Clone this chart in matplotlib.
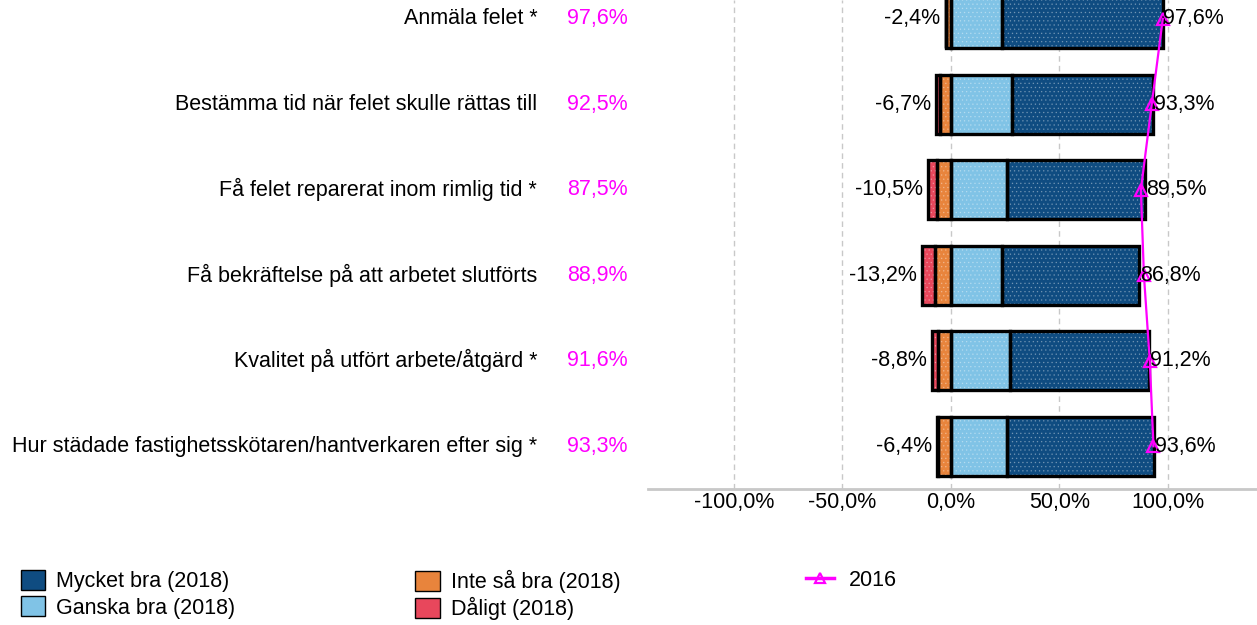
import matplotlib.pyplot as plt
from matplotlib.lines import Line2D
from matplotlib.patches import Patch

plt.rcParams["font.family"] = ["Liberation Sans", "DejaVu Sans"]
plt.rcParams["hatch.linewidth"] = 0.5

# =========================
# Data
# =========================
categories = [
    "Anmäla felet *",
    "Bestämma tid när felet skulle rättas till",
    "Få felet reparerat inom rimlig tid *",
    "Få bekräftelse på att arbetet slutförts",
    "Kvalitet på utfört arbete/åtgärd *",
    "Hur städade fastighetsskötaren/hantverkaren efter sig *",
]
mycket_bra = [73.9, 65.0, 63.9, 63.1, 63.8, 68.0]
ganska_bra = [23.7, 28.3, 25.6, 23.7, 27.4, 25.6]
inte_sa_bra = [2.4, 5.2, 6.6, 7.4, 6.0, 5.8]
daligt = [0.0, 1.5, 3.9, 5.8, 2.8, 0.6]
neg_labels = ["-2,4%", "-6,7%", "-10,5%", "-13,2%", "-8,8%", "-6,4%"]
pos_labels = ["97,6%", "93,3%", "89,5%", "86,8%", "91,2%", "93,6%"]
values_2016 = [97.6, 92.5, 87.5, 88.9, 91.6, 93.3]
labels_2016 = ["97,6%", "92,5%", "87,5%", "88,9%", "91,6%", "93,3%"]
xticks = [-100, -50, 0, 50, 100]
xtick_labels = ["-100,0%", "-50,0%", "0,0%", "50,0%", "100,0%"]

c_mycket = "#0f4c81"
c_ganska = "#80c3e6"
c_inte = "#e8843c"
c_dalig = "#e8475c"
c_2016 = "#ff00ff"
fs = 15.5

# =========================
# Diverging bar chart
# =========================
fig = plt.figure(figsize=(12.57, 6.25), dpi=100)
ax = fig.add_axes([0.5155, 0.2176, 0.4845, 0.7824])

y = list(range(len(categories)))
h = 0.69
neg_total = [a + b for a, b in zip(inte_sa_bra, daligt)]
pos_total = [a + b for a, b in zip(mycket_bra, ganska_bra)]

segments = [
    (ganska_bra, [0] * len(y), c_ganska),
    (mycket_bra, ganska_bra, c_mycket),
    (inte_sa_bra, [-v for v in inte_sa_bra], c_inte),
    (daligt, [-v for v in neg_total], c_dalig),
]
for widths, lefts, col in segments:
    ax.barh(y, widths, left=lefts, height=h, color=col,
            edgecolor=(1, 1, 1, 0.3), linewidth=0, hatch="....", zorder=2)
    ax.barh(y, widths, left=lefts, height=h, color="none",
            edgecolor="black", linewidth=2.4, zorder=3)

ax.plot(values_2016, y, color=c_2016, linewidth=1.6, marker="^",
        markersize=9, markerfacecolor="none", markeredgewidth=1.6, zorder=5)

for i in y:
    ax.text(-neg_total[i] - 2.5, i, neg_labels[i], ha="right", va="center",
            fontsize=fs, zorder=6)
    ax.text(pos_total[i] + 0.3, i, pos_labels[i], ha="left", va="center",
            fontsize=fs, zorder=6)
    ax.text(-0.182, i, categories[i], ha="right", va="center", fontsize=fs,
            transform=ax.get_yaxis_transform(), clip_on=False)
    ax.text(-0.033, i, labels_2016[i], ha="right", va="center", fontsize=fs,
            color=c_2016, transform=ax.get_yaxis_transform(), clip_on=False)

ax.set_xlim(-139.6, 141)
ax.set_ylim(5.5, -0.22)
ax.set_xticks(xticks)
ax.set_xticklabels(xtick_labels, fontsize=fs)
ax.set_yticks([])
ax.tick_params(axis="x", length=0, pad=2)
ax.grid(axis="x", color="#c8c8c8", linestyle=(0, (4, 3)), linewidth=1)
ax.set_axisbelow(True)
for s in ["top", "left", "right"]:
    ax.spines[s].set_visible(False)
ax.spines["bottom"].set_color("#c8c8c8")
ax.spines["bottom"].set_linewidth(2)

# =========================
# Legends
# =========================
leg_kw = dict(frameon=False, fontsize=15.5, handlelength=1.15, handleheight=1.05,
              labelspacing=0.2, handletextpad=0.5, borderaxespad=0, loc="upper left")
h1 = [Patch(facecolor=c_mycket, edgecolor="black"), Patch(facecolor=c_ganska, edgecolor="black")]
fig.legend(h1, ["Mycket bra (2018)", "Ganska bra (2018)"],
           bbox_to_anchor=(0.0095, 0.102), **leg_kw)
h2 = [Patch(facecolor=c_inte, edgecolor="black"), Patch(facecolor=c_dalig, edgecolor="black")]
fig.legend(h2, ["Inte så bra (2018)", "Dåligt (2018)"],
           bbox_to_anchor=(0.3235, 0.102), **leg_kw)
h3 = [Line2D([], [], color=c_2016, linewidth=2.5, marker="^", markersize=7,
             markerfacecolor="none", markeredgewidth=1.6)]
fig.legend(h3, ["2016"], bbox_to_anchor=(0.634, 0.102), frameon=False, fontsize=15.5,
           handlelength=1.3, handletextpad=0.7, borderaxespad=0, loc="upper left")

plt.savefig("out.png", dpi=100)
plt.close()
